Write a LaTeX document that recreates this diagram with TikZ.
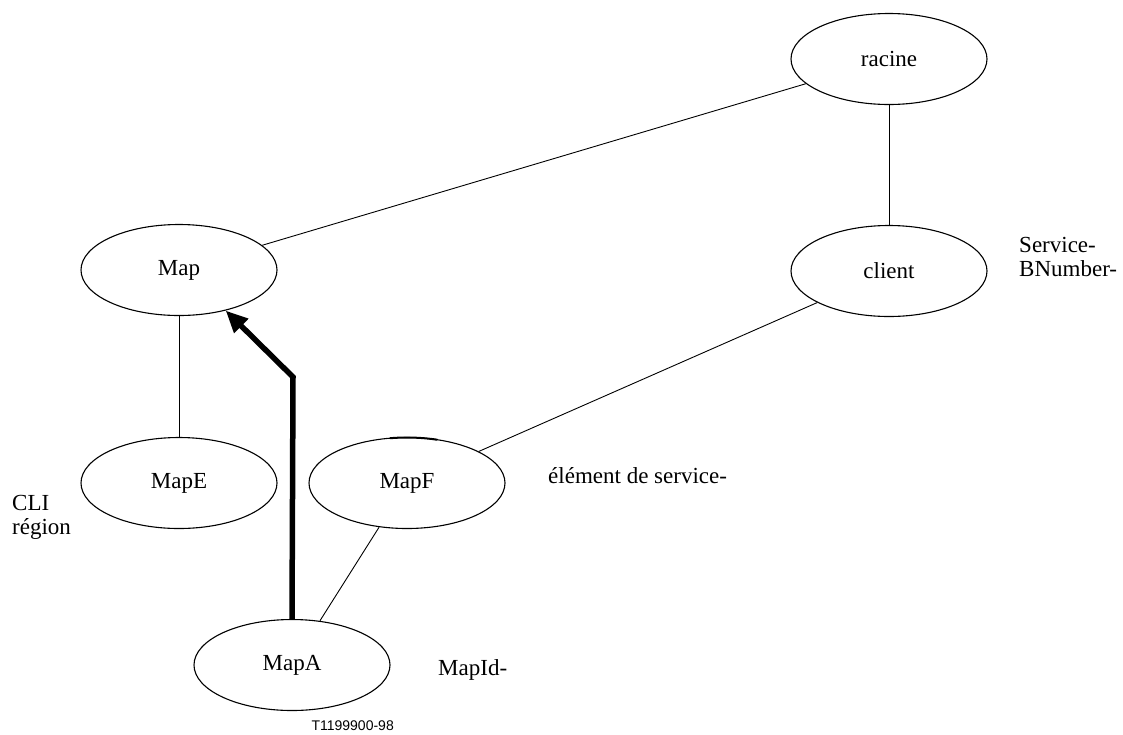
\documentclass[tikz,border=0pt]{standalone}
\usepackage{fontspec}
\setmainfont{Liberation Serif}
\newfontfamily\figsans{Liberation Sans}
\usetikzlibrary{arrows.meta,shapes.geometric}

\begin{document}
\begin{tikzpicture}[x=1pt, y=-1pt, >=Latex,
    every node/.style={font=\fontsize{23}{24}\selectfont},
    obj/.style={ellipse, draw, line width=1.1pt, minimum width=196pt, minimum height=91pt, inner sep=0pt},
    lbl/.style={inner sep=0pt, align=left},
    link/.style={line width=0.9pt},
    nav/.style={line width=5.5pt, -{Triangle[length=22pt,width=19pt]}}]
  \useasboundingbox (0,0) rectangle (1123,734);
  % objects of the tree
  \node[obj] (racine) at (889,59) {racine};
  \node[obj] (Map) at (179,270) {Map};
  \node[obj] (client) at (889,271) {client};
  \node[obj] (MapE) at (179,483) {MapE};
  \node[obj] (MapF) at (407,483) {MapF};
  \node[obj] (MapA) at (292,665) {MapA};
  \draw[line width=2pt] ([shift={(MapF.center)}]-100:98 and 45.5)
    arc[start angle=-100, end angle=-72, x radius=98, y radius=45.5];
  \draw[link] (racine) -- (Map);
  \draw[link] (racine) -- (client);
  \draw[link] (Map) -- (MapE);
  \draw[link] (client) -- (MapF);
  \draw[link] (MapF) -- (MapA);
  % navigation path
  \coordinate (bend) at (293,377);
  \draw[nav] (MapA.north) -- (bend) -- (Map.-41);
  % attribute labels
  \node[lbl, anchor=north west] (lblclient) at (1019,237) {Service-\\BNumber-};
  \node[lbl, anchor=north west] (lblmape) at (12,495) {CLI\\région};
  \node[lbl, anchor=base west] (lblmapf) at (548,483) {élément de service-};
  \node[lbl, anchor=base west] (lblmapa) at (438,675) {MapId-};
  \node[inner sep=0pt, anchor=base east, font=\figsans\fontsize{14}{16}\selectfont] (figref) at (394,730) {T1199900-98};
\end{tikzpicture}
\end{document}
